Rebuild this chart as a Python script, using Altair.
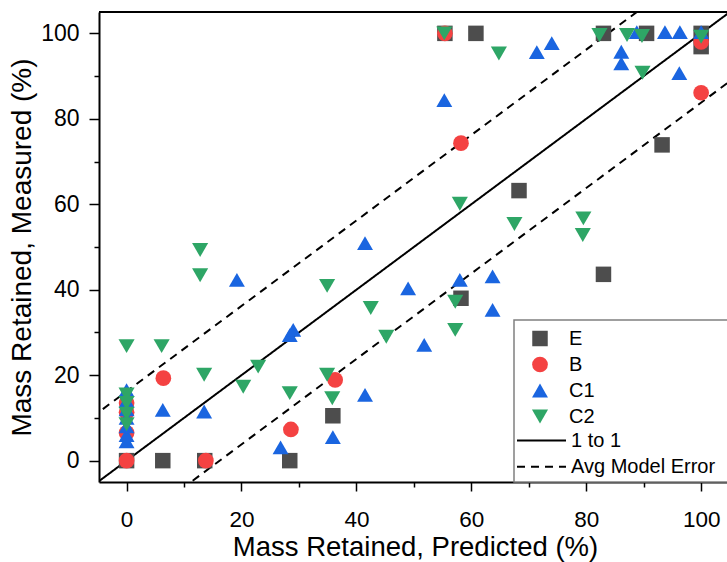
import altair as alt
import pandas as pd

# Measured vs predicted mass retained for four test series
series_names = ["E", "B", "C1", "C2"]
series_colors = ["#4d4d4d", "#f44242", "#1a65e0", "#2ea666"]
series_shapes = ["square", "circle", "triangle-up", "triangle-down"]
series_sizes = [240, 260, 400, 400]

e_pred = [0, 6.3, 13.6, 28.4, 35.9, 58.2, 83.0, 68.3, 93.2, 55.4, 60.8, 83.0, 90.5, 100, 100]
e_meas = [0, 0, 0, 0, 10.5, 38.0, 43.6, 63.2, 73.9, 100, 100, 100, 100, 96.9, 100]

b_pred = [0, 0, 0, 0, 6.4, 13.8, 28.6, 36.3, 58.2, 55.4, 100, 100]
b_meas = [0, 6.5, 11.3, 13.5, 19.3, 0, 7.3, 18.9, 74.3, 100, 86.1, 98]

c1_pred = [0, 0, 0, 0, 0, 0, 0, 6.3, 13.5, 19.2, 26.8, 28.4, 29.0, 35.9, 41.5,
           41.5, 49.0, 51.8, 55.3, 58.0, 63.7, 63.7, 71.4, 74.0, 86.1, 86.1,
           88.8, 93.7, 96.3, 96.2, 100]
c1_meas = [4.5, 6, 8, 10, 12, 14, 16.5, 11.9, 11.5, 42.3, 3.1, 29.4, 30.6, 5.5, 15.4,
           50.9, 40.3, 27.1, 84.4, 42.3, 43.1, 35.3, 95.6, 97.7, 95.7, 93.0,
           100.3, 100.3, 100.3, 90.7, 100.3]

c2_pred = [0, 0, 0, 0, 0, 6.1, 12.8, 12.8, 13.5, 20.3, 22.9, 28.4, 34.9, 34.9,
           35.8, 42.5, 45.2, 55.3, 57.2, 57.2, 58.0, 64.8, 67.5, 79.4, 79.5,
           82.3, 87.1, 89.7, 89.8, 100]
c2_meas = [26.8, 15.5, 13.5, 11, 8.5, 26.8, 49.3, 43.4, 20.1, 17.3, 22.0, 15.8, 40.9, 20.1,
           14.6, 35.7, 29.0, 100, 37.2, 30.6, 60.1, 95.3, 55.4, 52.8, 56.7,
           99.6, 99.6, 99.4, 90.8, 99.2]

avg_model_error = 16.2
line_kinds = ["1 to 1", "Avg Model Error"]

x_ticks = [0, 10, 20, 30, 40, 50, 60, 70, 80, 90, 100]
y_ticks = [0, 10, 20, 30, 40, 50, 60, 70, 80, 90, 100]
x_domain = [-4.8, 104.5]
y_domain = [-5, 105]

rows = []
for name, xs, ys in [("E", e_pred, e_meas), ("B", b_pred, b_meas),
                     ("C1", c1_pred, c1_meas), ("C2", c2_pred, c2_meas)]:
    for xv, yv in zip(xs, ys):
        rows.append({"pred": xv, "meas": yv, "series": name})
points_df = pd.DataFrame(rows)

ends = [-10, 110]
line_rows = []
for xv in ends:
    line_rows.append({"pred": xv, "meas": xv, "kind": line_kinds[0], "grp": "one"})
    line_rows.append({"pred": xv, "meas": xv + avg_model_error, "kind": line_kinds[1], "grp": "upper"})
    line_rows.append({"pred": xv, "meas": xv - avg_model_error, "kind": line_kinds[1], "grp": "lower"})
lines_df = pd.DataFrame(line_rows)

FONT = "Liberation Sans"
major = "datum.value % 20 === 0"

x_enc = alt.X(
    "pred:Q",
    scale=alt.Scale(domain=x_domain, nice=False, zero=False),
    axis=alt.Axis(
        values=x_ticks,
        labelExpr=f"{major} ? datum.label : ''",
        tickSize={"condition": {"test": major, "value": 9}, "value": 5},
        title="Mass Retained, Predicted (%)",
        labelPadding=17,
        labelFontSize=22.5,
        titleBaseline="alphabetic",
        titleY=73,
        titleX=316,
        titleFontSize=27.5,
    ),
)
y_enc = alt.Y(
    "meas:Q",
    scale=alt.Scale(domain=y_domain, nice=False, zero=False),
    axis=alt.Axis(
        values=y_ticks,
        labelExpr=f"{major} ? datum.label : ''",
        tickSize={"condition": {"test": major, "value": 10}, "value": 5},
        title="Mass Retained, Measured (%)",
        labelPadding=10,
        titlePadding=4,
    ),
)

series_legend = alt.Legend(
    title=None, orient="none", legendX=431, legendY=316.5,
    labelOffset=19, rowPadding=6, symbolStrokeWidth=0,
)

legend_box = alt.Chart(pd.DataFrame({"k": [0]})).mark_rect(
    fill="white", stroke="#808080", strokeWidth=1.5
).encode(x=alt.value(415), x2=alt.value(700), y=alt.value(308), y2=alt.value(470))

ref_lines = alt.Chart(lines_df).mark_line(clip=True, strokeWidth=2, color="black").encode(
    x=x_enc,
    y=y_enc,
    detail="grp:N",
    strokeDash=alt.StrokeDash(
        "kind:N",
        scale=alt.Scale(domain=line_kinds, range=[[1, 0], [8, 6]]),
        legend=alt.Legend(
            title=None, orient="none", legendX=417, legendY=418.5,
            symbolType="stroke", symbolSize=2401, symbolStrokeWidth=2,
            symbolStrokeColor="black", labelOffset=4, rowPadding=6.3,
            clipHeight=20,
        ),
    ),
)

points = alt.Chart(points_df).mark_point(filled=True, opacity=1, strokeWidth=0).encode(
    x=x_enc,
    y=y_enc,
    color=alt.Color("series:N", scale=alt.Scale(domain=series_names, range=series_colors),
                    legend=series_legend),
    shape=alt.Shape("series:N", scale=alt.Scale(domain=series_names, range=series_shapes),
                    legend=series_legend),
    size=alt.Size("series:N", scale=alt.Scale(domain=series_names, range=series_sizes),
                  legend=series_legend),
)

top_frame = alt.Chart(pd.DataFrame({"k": [0]})).mark_rule(color="black", strokeWidth=2).encode(
    x=alt.value(0), x2=alt.value(640), y=alt.value(0)
)

chart = alt.layer(ref_lines, legend_box, points, top_frame).properties(
    width=628,
    height=470,
    padding={"left": 99, "top": 12, "right": 0, "bottom": 80},
    autosize=alt.AutoSizeParams(type="none"),
).configure_view(stroke=None).configure_axis(
    grid=False,
    domainColor="black",
    domainWidth=2,
    tickColor="black",
    tickWidth=1.5,
    labelFont=FONT,
    labelFontSize=23,
    labelColor="black",
    titleFont=FONT,
    titleFontSize=28,
    titleFontWeight="normal",
    titleColor="black",
).configure_legend(
    labelFont=FONT,
    labelFontSize=20,
    labelColor="black",
)

chart.save("out.html", embed_options={"renderer": "svg", "actions": False})
